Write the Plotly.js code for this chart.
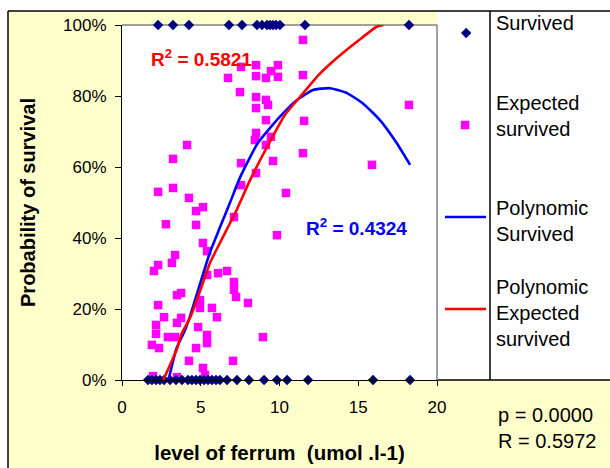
<!DOCTYPE html>
<html><head><meta charset="utf-8">
<script src="https://cdn.plot.ly/plotly-3.0.1.min.js"></script>
<style>html,body{margin:0;padding:0;background:#fff}#chart{width:610px;height:468px}</style>
</head><body><div id="chart"></div>
<script>
// ---------------- data ----------------
const survivedX = [2.29,3.24,4.25,6.79,7.62,8.57,8.89,9.21,9.40,9.59,9.78,10.03,11.62,18.22,
  1.65,1.90,2.16,2.41,2.67,3.05,3.43,3.81,4.19,4.44,4.70,4.95,5.21,5.46,5.71,5.97,6.22,6.67,7.30,8.06,9.02,9.84,10.48,11.81,15.94,18.29];
const survivedY = [1,1,1,1,1,1,1,1,1,1,1,1,1,1,
  0,0,0,0,0,0,0,0,0,0,0,0,0,0,0,0,0,0,0,0,0,0,0,0,0,0];
const expectedX = [11.49,11.49,11.56,11.49,18.22,15.87,10.41,7.56,8.51,9.46,9.90,6.73,8.51,9.14,9.90,7.49,8.51,9.14,8.51,9.27,
  9.14,8.51,8.44,9.46,9.14,9.59,7.56,8.51,7.56,4.13,3.24,2.29,3.24,4.25,4.70,5.14,2.79,4.70,7.11,9.84,
  5.14,5.40,3.37,3.17,2.29,2.03,5.40,6.10,6.67,7.11,7.11,7.24,8.00,3.75,3.49,2.29,4.95,4.95,5.71,6.03,
  2.67,3.75,3.49,2.16,2.16,4.83,2.92,3.37,5.40,5.40,1.90,2.35,4.70,8.95,4.25,7.05,5.14,1.97,3.49,5.27];
const expectedY = [0.958,0.859,0.730,0.639,0.775,0.606,0.527,0.882,0.887,0.870,0.887,0.851,0.856,0.851,0.854,0.811,0.797,0.789,0.766,0.775,
  0.732,0.696,0.676,0.685,0.662,0.617,0.611,0.583,0.549,0.662,0.623,0.530,0.541,0.513,0.476,0.487,0.439,0.437,0.459,0.408,
  0.386,0.363,0.352,0.330,0.324,0.307,0.296,0.301,0.307,0.276,0.254,0.234,0.217,0.245,0.239,0.211,0.225,0.203,0.203,0.177,
  0.177,0.175,0.161,0.155,0.130,0.149,0.121,0.121,0.127,0.104,0.099,0.090,0.090,0.121,0.054,0.054,0.034,0.011,0.008,0.014];
const polySurvivedX = [2.95,3.47,4.00,4.32,4.95,5.59,6.22,6.86,7.49,8.63,10.03,11.11,12.13,13.21,14.29,15.30,16.38,17.46,18.29];
const polySurvivedY = [0,0.09,0.14,0.18,0.27,0.36,0.43,0.50,0.57,0.668,0.742,0.789,0.817,0.822,0.808,0.779,0.732,0.666,0.606];
const polyExpectedX = [2.62,3.47,3.79,4.32,4.95,5.59,6.41,7.28,8.13,9.29,10.35,11.41,12.46,13.21,14.27,15.32,16.17,16.59];
const polyExpectedY = [0,0.085,0.131,0.175,0.25,0.33,0.403,0.479,0.563,0.663,0.747,0.803,0.858,0.890,0.930,0.967,0.995,1.0];
const xTickVals = [0,5,10,15,20];
const yTickVals = [0,0.2,0.4,0.6,0.8,1];
const legendLabels = ["Survived","Expected<br>survived","Polynomic<br>Survived","Polynomic<br>Expected<br>survived"];
const r2Survived = "R<sup>2</sup> = 0.4324";
const r2Expected = "R<sup>2</sup> = 0.5821";
const statsText = "p = 0.0000<br>R = 0.5972";
const xTitle = "level of ferrum\u00a0 (umol .l-1)";
const yTitle = "Probability of survival";

// ---------------- layout helpers ----------------
const W = 610, H = 468;
const px = v => v / W;
const py = v => 1 - v / H;
const FONT = "Liberation Sans, Arial, sans-serif";
const NAVY = "#000080", MAGENTA = "#FF00FF", BLUE = "#0000FF", RED = "#FF0000";
const PL = 122, PR = 437, PT = 25, PB = 380;

const traces = [
  {x: expectedX, y: expectedY, type: "scatter", mode: "markers", name: "Expected survived",
   marker: {symbol: "square", size: 8.5, color: MAGENTA}, cliponaxis: false},
  {x: survivedX, y: survivedY, type: "scatter", mode: "markers", name: "Survived",
   marker: {symbol: "diamond", size: 8, color: NAVY}, cliponaxis: false},
  {x: polySurvivedX, y: polySurvivedY, type: "scatter", mode: "lines", name: "Polynomic Survived",
   line: {color: BLUE, width: 2.6, shape: "spline", smoothing: 0.5}},
  {x: polyExpectedX, y: polyExpectedY, type: "scatter", mode: "lines", name: "Polynomic Expected survived",
   line: {color: RED, width: 2.6, shape: "spline", smoothing: 0.5}},
  // legend keys (row index on a hidden axis)
  {x: [0.55], y: [0], xaxis: "x2", yaxis: "y2", mode: "markers", hoverinfo: "skip",
   marker: {symbol: "diamond", size: 8, color: NAVY}},
  {x: [0.53], y: [1], xaxis: "x2", yaxis: "y2", mode: "markers", hoverinfo: "skip",
   marker: {symbol: "square", size: 8.5, color: MAGENTA}},
  {x: [0.15, 0.925], y: [2, 2], xaxis: "x2", yaxis: "y2", mode: "lines", hoverinfo: "skip",
   line: {color: BLUE, width: 2.6}},
  {x: [0.15, 0.925], y: [3, 3], xaxis: "x2", yaxis: "y2", mode: "lines", hoverinfo: "skip",
   line: {color: RED, width: 2.6}}
];

const rowTop = (11 - 33) / 92, rowBottom = (380 - 33) / 92;
const legendTextY = [23, 115.5, 220.5, 313];

const layout = {
  width: W, height: H,
  margin: {l: 0, r: 0, t: 0, b: 0},
  paper_bgcolor: "#FFFFCC",
  plot_bgcolor: "#FFFFFF",
  showlegend: false,
  font: {family: FONT, color: "#000"},
  xaxis: {
    domain: [px(PL), px(PR)], range: [0, 20], tickvals: xTickVals,
    showgrid: false, zeroline: false, showline: true, linecolor: "#000", linewidth: 1,
    ticks: "outside", ticklen: 5, tickcolor: "#000",
    tickfont: {size: 17, family: FONT}, ticklabelstandoff: 7,
    title: {text: xTitle, font: {size: 20.5, family: FONT, weight: 700}, standoff: 29}
  },
  yaxis: {
    domain: [py(PB), py(PT)], range: [0, 1], tickvals: yTickVals, tickformat: ".0%",
    showgrid: false, zeroline: false, showline: true, linecolor: "#000", linewidth: 1,
    ticks: "outside", ticklen: 6, tickcolor: "#000",
    tickfont: {size: 17, family: FONT}, ticklabelstandoff: 5,
    title: {text: yTitle, font: {size: 20, family: FONT, weight: 700}, standoff: 22}
  },
  xaxis2: {domain: [px(437), px(490)], range: [0, 1], visible: false, anchor: "y2", fixedrange: true},
  yaxis2: {domain: [py(380), py(11)], range: [rowBottom, rowTop], visible: false, anchor: "x2", fixedrange: true},
  shapes: [
    {type: "rect", xref: "paper", yref: "paper", x0: 0, x1: 1, y0: py(11), y1: 1, fillcolor: "#fff", line: {width: 0}, layer: "below"},
    {type: "rect", xref: "paper", yref: "paper", x0: 0, x1: px(8), y0: 0, y1: 1, fillcolor: "#fff", line: {width: 0}, layer: "below"},
    {type: "rect", xref: "paper", yref: "paper", x0: px(437), x1: 1.02, y0: py(380), y1: py(11), fillcolor: "#fff", line: {width: 0}, layer: "below"},
    {type: "line", xref: "paper", yref: "paper", x0: px(8), x1: 1.02, y0: py(11), y1: py(11), line: {color: "#000", width: 1.5}, layer: "below"},
    {type: "line", xref: "paper", yref: "paper", x0: px(8), x1: px(8), y0: py(11), y1: -0.02, line: {color: "#000", width: 1.5}, layer: "below"},
    {type: "line", xref: "paper", yref: "paper", x0: px(437), x1: 1.02, y0: py(380), y1: py(380), line: {color: "#000", width: 1.5}, layer: "below"},
    {type: "line", xref: "paper", yref: "paper", x0: px(490), x1: px(490), y0: py(380), y1: py(11), line: {color: "#000", width: 1.5}, layer: "below"},
    {type: "line", xref: "paper", yref: "paper", x0: px(PL), x1: px(PR), y0: py(PT), y1: py(PT), line: {color: "#808080", width: 1.5}, layer: "below"},
    {type: "line", xref: "paper", yref: "paper", x0: px(PR), x1: px(PR), y0: py(PT), y1: py(PB), line: {color: "#808080", width: 1.5}, layer: "below"}
  ],
  annotations: [
    {text: r2Expected, xref: "paper", yref: "paper", x: px(149), y: py(58), xanchor: "left", yanchor: "middle",
     showarrow: false, font: {size: 19, color: RED, family: FONT, weight: 700}},
    {text: r2Survived, xref: "paper", yref: "paper", x: px(304), y: py(227), xanchor: "left", yanchor: "middle",
     showarrow: false, font: {size: 19, color: BLUE, family: FONT, weight: 700}},
    {text: statsText, xref: "paper", yref: "paper", x: px(496), y: py(428), xanchor: "left", yanchor: "middle", align: "left",
     showarrow: false, font: {size: 20, family: FONT}}
  ].concat(legendLabels.map((t, i) => ({
    text: t, xref: "paper", yref: "paper", x: px(494), y: py(legendTextY[i]), xanchor: "left", yanchor: "middle", align: "left",
    showarrow: false, font: {size: 20, family: FONT}
  })))
};

Plotly.newPlot("chart", traces, layout, {displayModeBar: false, staticPlot: true});
</script>
</body></html>
